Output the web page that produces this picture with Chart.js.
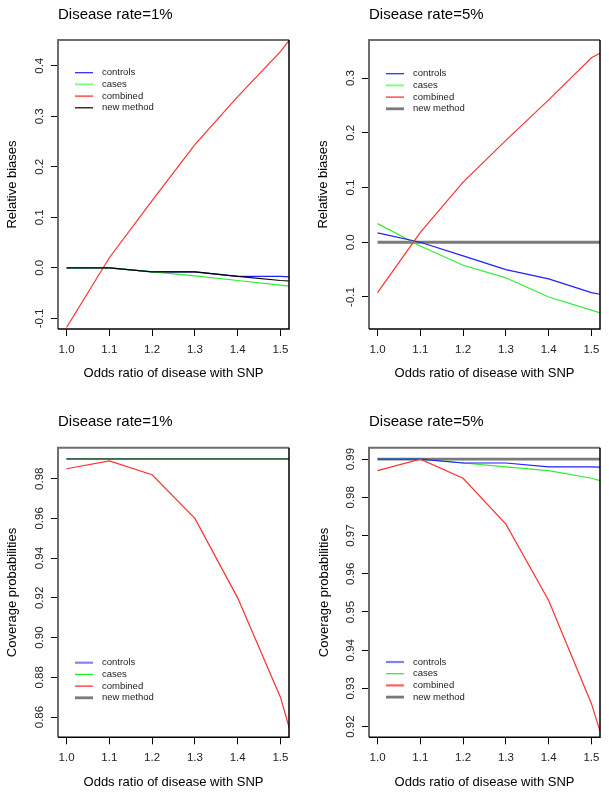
<!DOCTYPE html>
<html>
<head>
<meta charset="utf-8">
<script src="https://cdn.jsdelivr.net/npm/chart.js@4.4.0/dist/chart.umd.min.js"></script>
<style>
body { margin: 0; background: #fff; width: 609px; height: 795px; position: relative; overflow: hidden; }
canvas { position: absolute; }
</style>
</head>
<body>
<canvas id="c1" width="305" height="395" style="left:0;top:0"></canvas>
<canvas id="c2" width="304" height="395" style="left:305px;top:0"></canvas>
<canvas id="c3" width="305" height="400" style="left:0;top:395px"></canvas>
<canvas id="c4" width="304" height="400" style="left:305px;top:395px"></canvas>
<script>
// odds ratios (last point lies past the axis limit and gets clipped, as in the original)
var oddsRatio = [1.0, 1.1, 1.2, 1.3, 1.4, 1.5, 1.6];
var xTicks = [1.0, 1.1, 1.2, 1.3, 1.4, 1.5];
var seriesNames = ['controls', 'cases', 'combined', 'new method'];

// relative biases, disease rate 1%
var biasControls1 = [0, 0, -0.008, -0.008, -0.017, -0.017, -0.022];
var biasCases1 = [0, 0, -0.008, -0.016, -0.025, -0.034, -0.044];
var biasCombined1 = [-0.118, 0.02, 0.133, 0.244, 0.339, 0.428, 0.538];
var biasNew1 = [0, 0, -0.008, -0.008, -0.017, -0.025, -0.030];

// relative biases, disease rate 5%
var biasControls5 = [0.017, 0.0, -0.025, -0.05, -0.067, -0.092, -0.107];
var biasCases5 = [0.034, -0.007, -0.042, -0.065, -0.1, -0.124, -0.149];
var biasCombined5 = [-0.092, 0.018, 0.11, 0.186, 0.26, 0.337, 0.38];
var biasNew5 = [0, 0, 0, 0, 0, 0, 0];

// coverage probabilities, disease rate 1%
var covControls1 = [0.99, 0.99, 0.99, 0.99, 0.99, 0.99, 0.99];
var covCases1 = [0.99, 0.99, 0.99, 0.99, 0.99, 0.99, 0.99];
var covCombined1 = [0.985, 0.989, 0.982, 0.96, 0.92, 0.87, 0.795];
var covNew1 = [0.99, 0.99, 0.99, 0.99, 0.99, 0.99, 0.99];

// coverage probabilities, disease rate 5%
var covControls5 = [0.99, 0.99, 0.989, 0.989, 0.988, 0.988, 0.9875];
var covCases5 = [0.99, 0.99, 0.989, 0.988, 0.987, 0.985, 0.982];
var covCombined5 = [0.987, 0.99, 0.985, 0.973, 0.953, 0.926, 0.89];
var covNew5 = [0.99, 0.99, 0.99, 0.99, 0.99, 0.99, 0.99];

var biasTicks1 = [-0.1, 0.0, 0.1, 0.2, 0.3, 0.4];
var biasTicks5 = [-0.1, 0.0, 0.1, 0.2, 0.3];
var covTicks1 = [0.86, 0.88, 0.90, 0.92, 0.94, 0.96, 0.98];
var covTicks5 = [0.92, 0.93, 0.94, 0.95, 0.96, 0.97, 0.98, 0.99];

Chart.defaults.font.family = '"Liberation Sans", Arial, sans-serif';
Chart.defaults.color = '#000';

// R-like box, rotated y tick labels and inset legend
var rStyle = {
  id: 'rStyle',
  afterDraw: function(chart, args, opts) {
    var ctx = chart.ctx, a = chart.chartArea, ys = chart.scales.y;
    ctx.save();
    ctx.lineWidth = 2;
    ctx.strokeStyle = '#6e6e6e';
    ctx.beginPath();
    ctx.moveTo(a.left, a.bottom); ctx.lineTo(a.left, a.top); ctx.lineTo(a.right, a.top);
    ctx.stroke();
    ctx.lineWidth = 1.5;
    ctx.strokeStyle = '#000';
    ctx.beginPath();
    ctx.moveTo(a.right, a.top); ctx.lineTo(a.right, a.bottom); ctx.lineTo(a.left, a.bottom);
    ctx.stroke();

    ctx.font = '11.5px "Liberation Sans", Arial, sans-serif';
    ctx.fillStyle = '#222';
    ctx.textAlign = 'center';
    ctx.textBaseline = 'middle';
    opts.yTicks.forEach(function(v) {
      ctx.save();
      ctx.translate(a.left - 18.5, ys.getPixelForValue(v));
      ctx.rotate(-Math.PI / 2);
      ctx.fillText(v.toFixed(opts.digits), 0, 0);
      ctx.restore();
    });

    ctx.font = '9.5px "Liberation Sans", Arial, sans-serif';
    ctx.textAlign = 'left';
    chart.data.datasets.forEach(function(ds, i) {
      var x = a.left + 17, y = a.top + opts.legendTop + i * 11.7;
      ctx.strokeStyle = opts.legendColors[i];
      ctx.lineWidth = opts.legendWidths[i];
      ctx.beginPath(); ctx.moveTo(x, y); ctx.lineTo(x + 18, y); ctx.stroke();
      ctx.fillStyle = '#222';
      ctx.fillText(ds.label, x + 27, y);
    });
    ctx.restore();
  }
};

function series(values, color, width, order) {
  return {
    data: oddsRatio.map(function(x, i) { return {x: x, y: values[i]}; }),
    borderColor: color, borderWidth: width, pointRadius: 0, tension: 0,
    fill: false, order: order
  };
}

function makeChart(id, p) {
  var sets = p.sets.map(function(s, i) {
    var d = series(s[0], s[1], s[2], s[3]);
    d.label = seriesNames[i];
    return d;
  });
  return new Chart(document.getElementById(id), {
    type: 'line',
    data: { datasets: sets },
    plugins: [rStyle],
    options: {
      responsive: false,
      animation: false,
      layout: { padding: { left: 0, right: p.rightPad, top: 0, bottom: 0 } },
      plugins: {
        legend: { display: false },
        tooltip: { enabled: false },
        title: {
          display: true, text: p.title, align: 'start', fullSize: false,
          font: { size: 15, weight: 'normal' }, color: '#000',
          padding: { top: p.titleTop, bottom: p.titleBottom }
        },
        rStyle: {
          yTicks: p.yTicks, digits: p.digits, legendTop: p.legendTop,
          legendColors: p.legendColors, legendWidths: p.legendWidths
        }
      },
      scales: {
        x: {
          type: 'linear', min: 0.98, max: 1.52,
          afterBuildTicks: function(s) { s.ticks = xTicks.map(function(v) { return {value: v}; }); },
          ticks: {
            callback: function(v) { return v.toFixed(1); },
            font: { size: 11.5 }, color: '#222', padding: 7, maxRotation: 0, autoSkip: false
          },
          grid: { drawOnChartArea: false, drawTicks: true, tickLength: 7, color: '#000' },
          border: { display: false },
          title: {
            display: true, text: 'Odds ratio of disease with SNP',
            font: { size: 13 }, color: '#000', padding: { top: 0, bottom: p.xTitlePad }
          },
          afterFit: function(s) { s.height = p.xHeight; }
        },
        y: {
          type: 'linear', min: p.yMin, max: p.yMax,
          afterBuildTicks: function(s) { s.ticks = p.yTicks.map(function(v) { return {value: v}; }); },
          ticks: { color: 'rgba(0,0,0,0)', font: { size: 11.5 } },
          grid: { drawOnChartArea: false, drawTicks: true, tickLength: 7, color: '#000' },
          border: { display: false },
          title: {
            display: true, text: p.yTitle,
            font: { size: 13 }, color: '#000', padding: { top: p.yTitlePad, bottom: 0 }
          },
          afterFit: function(s) { s.width = p.yWidth; }
        }
      }
    }
  });
}

var grey = '#7a7a7a';

makeChart('c1', {
  title: 'Disease rate=1%', yTitle: 'Relative biases',
  sets: [[biasControls1, '#2020ff', 1.2, 3], [biasCases1, '#30ee30', 1.2, 2],
         [biasCombined1, '#ff3030', 1.2, 1], [biasNew1, '#000', 1.2, 0]],
  yMin: -0.121, yMax: 0.451, yTicks: biasTicks1, digits: 1,
  rightPad: 16, yWidth: 58, xHeight: 66, xTitlePad: 14, yTitlePad: 5,
  titleTop: 6, titleBottom: 16, legendTop: 32.7,
  legendColors: ['#2020ff', '#80ff80', '#ff2020', '#000'], legendWidths: [1.2, 2, 1.2, 1.2]
});

makeChart('c2', {
  title: 'Disease rate=5%', yTitle: 'Relative biases',
  sets: [[biasControls5, '#2020ff', 1.2, 2], [biasCases5, '#30ee30', 1.2, 3],
         [biasCombined5, '#ff3030', 1.2, 1], [biasNew5, grey, 2.8, 4]],
  yMin: -0.1585, yMax: 0.3695, yTicks: biasTicks5, digits: 1,
  rightPad: 9, yWidth: 64, xHeight: 66, xTitlePad: 14, yTitlePad: 10.9,
  titleTop: 6, titleBottom: 16, legendTop: 33.7,
  legendColors: ['#2020ff', '#80ff80', '#ff2020', grey], legendWidths: [1.2, 2, 1.2, 2.8]
});

makeChart('c3', {
  title: 'Disease rate=1%', yTitle: 'Coverage probabilities',
  sets: [[covControls1, '#2020ff', 1.2, 3], [covCases1, '#30ee30', 1.2, 2],
         [covCombined1, '#ff3030', 1.2, 1], [covNew1, '#3f6a4f', 1.8, 0]],
  yMin: 0.8498, yMax: 0.9956, yTicks: covTicks1, digits: 2,
  rightPad: 16, yWidth: 58, xHeight: 57.7, xTitlePad: 4.5, yTitlePad: 4.7,
  titleTop: 18, titleBottom: 16.7, legendTop: 215,
  legendColors: ['#8080ff', '#20ee20', '#ff2020', grey], legendWidths: [2.2, 1.2, 1.2, 2.8]
});

makeChart('c4', {
  title: 'Disease rate=5%', yTitle: 'Coverage probabilities',
  sets: [[covControls5, '#2020ff', 1.2, 2], [covCases5, '#30ee30', 1.2, 3],
         [covCombined5, '#ff3030', 1.2, 1], [covNew5, grey, 2.8, 4]],
  yMin: 0.9172, yMax: 0.993, yTicks: covTicks5, digits: 2,
  rightPad: 9, yWidth: 64, xHeight: 57.7, xTitlePad: 4.5, yTitlePad: 11.7,
  titleTop: 18, titleBottom: 16.7, legendTop: 214.3,
  legendColors: ['#8080ff', '#20ee20', '#ff6060', grey], legendWidths: [2.2, 1.2, 2.2, 2.8]
});
</script>
</body>
</html>
